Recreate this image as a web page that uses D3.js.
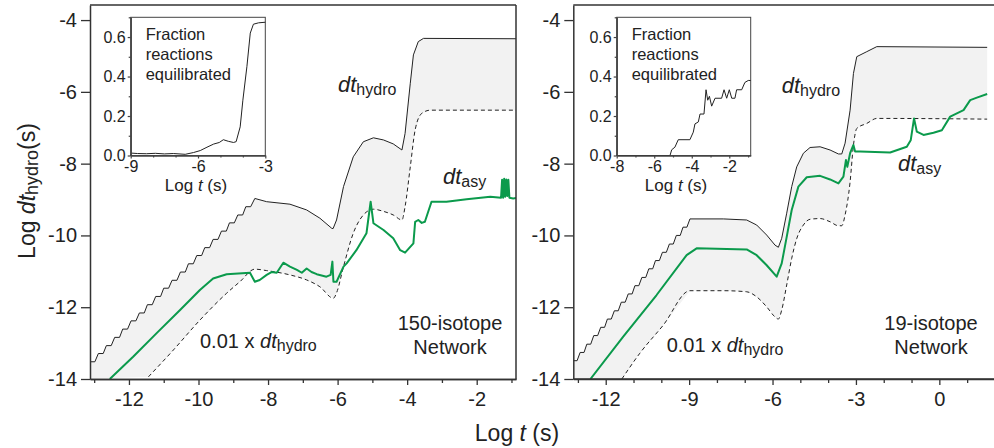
<!DOCTYPE html>
<html>
<head>
<meta charset="UTF-8">
<script src="https://cdn.jsdelivr.net/npm/d3@7"></script>
<style>
body { margin: 0; background: #fff; }
svg { display: block; font-family: "Liberation Sans", Arial, sans-serif; }
</style>
</head>
<body>
<script>
// ---- data (log10 t, log10 dt) ----
var leftHydro = [
  [-13.12,-13.52],[-12.98,-13.52],[-12.88,-13.29],[-12.74,-13.29],[-12.65,-13.07],[-12.51,-13.07],
  [-12.41,-12.84],[-12.27,-12.84],[-12.18,-12.61],[-12.04,-12.61],[-11.94,-12.38],[-11.80,-12.38],
  [-11.70,-12.16],[-11.56,-12.16],[-11.47,-11.93],[-11.33,-11.93],[-11.23,-11.70],[-11.09,-11.70],
  [-11.00,-11.47],[-10.86,-11.47],[-10.76,-11.25],[-10.62,-11.25],[-10.52,-11.02],[-10.38,-11.02],
  [-10.29,-10.79],[-10.15,-10.79],[-10.05,-10.56],[-9.91,-10.56],[-9.82,-10.34],[-9.68,-10.34],
  [-9.58,-10.11],[-9.44,-10.11],[-9.34,-9.88],[-9.20,-9.88],[-9.11,-9.65],[-8.97,-9.65],
  [-8.87,-9.43],[-8.73,-9.43],[-8.64,-9.20],[-8.50,-9.20],[-8.38,-8.97],
  [-8.04,-9.06],[-7.37,-9.13],[-6.89,-9.29],[-6.51,-9.52],[-6.17,-9.80],[-6.13,-9.81],
  [-6.03,-9.57],[-5.83,-8.64],[-5.55,-7.81],[-5.26,-7.39],[-4.97,-7.28],[-4.68,-7.34],
  [-4.40,-7.45],[-4.15,-7.62],[-4.06,-7.16],[-3.91,-5.76],[-3.82,-4.97],[-3.68,-4.60],
  [-3.53,-4.51],[-0.87,-4.52]
];
var leftDashed = [
  [-11.44,-13.94],[-10.72,-13.19],[-9.96,-12.36],[-9.19,-11.61],[-8.81,-11.29],[-8.38,-10.94],
  [-8.04,-10.98],[-7.37,-11.10],[-6.89,-11.24],[-6.51,-11.43],[-6.12,-11.75],[-6.03,-11.60],
  [-5.83,-10.87],[-5.55,-9.94],[-5.26,-9.43],[-4.97,-9.27],[-4.68,-9.33],[-4.40,-9.43],
  [-4.15,-9.57],[-4.06,-9.20],[-3.91,-8.09],[-3.77,-7.06],[-3.58,-6.60],[-3.33,-6.51],[-0.87,-6.51]
];
var leftAsy = [
  [-12.55,-14.0],[-11.88,-13.38],[-11.21,-12.73],[-10.53,-12.08],[-9.96,-11.52],[-9.58,-11.20],
  [-9.19,-11.08],[-8.52,-11.04],[-8.38,-11.29],[-8.24,-11.24],[-8.04,-11.10],[-7.90,-11.02],
  [-7.75,-11.04],[-7.56,-10.76],[-7.37,-10.87],[-7.17,-10.96],[-7.03,-11.04],[-6.89,-10.92],
  [-6.75,-11.02],[-6.60,-11.08],[-6.32,-11.15],[-6.20,-11.10],[-6.15,-10.73],[-6.12,-11.29],
  [-6.03,-11.29],[-5.83,-10.87],[-5.74,-10.78],[-5.46,-10.41],[-5.17,-9.94],[-5.12,-9.57],
  [-5.05,-9.06],[-4.97,-9.66],[-4.68,-9.85],[-4.40,-10.08],[-4.20,-10.41],[-4.06,-10.48],
  [-3.82,-10.22],[-3.77,-9.62],[-3.68,-9.57],[-3.58,-9.65],[-3.49,-9.62],[-3.30,-9.06],
  [-2.87,-9.06],[-2.29,-8.99],[-1.61,-8.92],[-1.30,-8.95],[-1.27,-8.45],[-1.24,-8.95],
  [-1.21,-8.42],[-1.18,-8.92],[-1.15,-8.44],[-1.12,-8.90],[-1.09,-8.45],[-1.06,-8.95],
  [-0.95,-8.97],[-0.87,-8.96]
];
var rightHydro = [
  [-13.17,-13.49],[-13.03,-13.49],[-12.92,-13.26],[-12.78,-13.26],[-12.68,-13.03],[-12.54,-13.03],
  [-12.43,-12.79],[-12.29,-12.79],[-12.18,-12.56],[-12.04,-12.56],[-11.94,-12.33],[-11.80,-12.33],
  [-11.69,-12.10],[-11.55,-12.10],[-11.44,-11.86],[-11.30,-11.86],[-11.19,-11.63],[-11.05,-11.63],
  [-10.95,-11.40],[-10.81,-11.40],[-10.70,-11.17],[-10.56,-11.17],[-10.45,-10.93],[-10.31,-10.93],
  [-10.21,-10.70],[-10.07,-10.70],[-9.96,-10.47],[-9.82,-10.47],[-9.71,-10.24],[-9.57,-10.24],
  [-9.46,-10.00],[-9.32,-10.00],[-9.22,-9.77],[-9.08,-9.77],[-8.97,-9.54],
  [-7.77,-9.54],[-6.93,-9.57],[-6.57,-9.71],[-6.21,-9.99],[-5.91,-10.27],[-5.79,-10.33],
  [-5.67,-10.08],[-5.49,-9.38],[-5.31,-8.64],[-5.13,-8.09],[-4.89,-7.71],[-4.65,-7.55],
  [-4.29,-7.53],[-3.93,-7.62],[-3.63,-7.73],[-3.51,-7.73],[-3.39,-7.43],[-3.21,-6.51],
  [-3.09,-5.49],[-2.97,-5.02],[-2.61,-4.88],[-2.25,-4.74],[1.72,-4.76]
];
var rightDashed = [
  [-11.42,-14.0],[-10.77,-13.28],[-9.93,-12.50],[-8.97,-11.54],[-7.77,-11.54],[-6.93,-11.57],
  [-6.57,-11.71],[-6.21,-11.99],[-5.91,-12.27],[-5.79,-12.33],[-5.67,-12.08],[-5.49,-11.38],
  [-5.31,-10.64],[-5.13,-10.09],[-4.89,-9.71],[-4.65,-9.55],[-4.29,-9.53],[-3.93,-9.62],
  [-3.63,-9.73],[-3.51,-9.73],[-3.39,-9.43],[-3.21,-8.51],[-3.09,-7.49],[-2.97,-7.02],
  [-2.61,-6.88],[-2.25,-6.74],[1.72,-6.76]
];
var rightAsy = [
  [-12.55,-14.0],[-11.37,-12.82],[-10.17,-11.66],[-9.09,-10.55],[-8.73,-10.36],[-6.93,-10.39],
  [-6.57,-10.55],[-6.21,-10.83],[-5.85,-11.15],[-5.67,-10.78],[-5.49,-10.04],[-5.31,-9.29],
  [-5.07,-8.64],[-4.77,-8.38],[-4.29,-8.34],[-3.93,-8.44],[-3.63,-8.55],[-3.45,-8.36],
  [-3.36,-7.90],[-3.31,-8.09],[-3.21,-7.71],[-3.09,-7.48],[-3.03,-7.66],[-2.85,-7.66],
  [-1.77,-7.69],[-1.17,-7.53],[-1.03,-7.35],[-0.91,-6.74],[-0.81,-7.11],[-0.57,-7.20],
  [-0.21,-7.14],[0.09,-7.07],[0.39,-6.69],[0.87,-6.51],[1.11,-6.23],[1.35,-6.16],[1.72,-6.06]
];
// inset: fraction of reactions equilibrated
var leftFrac = [
  [-9.0,0.006],[-8.95,0.012],[-8.7,0.010],[-8.3,0.009],[-7.9,0.011],[-7.5,0.008],[-7.1,0.010],
  [-6.57,0.006],[-6.2,0.015],[-5.9,0.025],[-5.6,0.042],[-5.3,0.058],[-5.05,0.066],[-4.87,0.080],
  [-4.65,0.072],[-4.42,0.066],[-4.30,0.070],[-4.12,0.145],[-4.0,0.28],[-3.82,0.45],[-3.67,0.62],
  [-3.53,0.665],[-3.3,0.672],[-3.0,0.675]
];
var rightFrac = [
  [-8.0,0.0],[-5.16,0.0],[-5.07,0.029],[-4.9,0.042],[-4.72,0.08],[-4.1,0.08],[-3.92,0.118],
  [-3.83,0.16],[-3.65,0.17],[-3.56,0.21],[-3.35,0.21],[-3.24,0.333],[-3.15,0.28],[-3.06,0.30],
  [-2.94,0.25],[-2.76,0.29],[-2.41,0.29],[-2.28,0.333],[-2.14,0.29],[-2.0,0.333],[-1.87,0.29],
  [-1.70,0.29],[-1.61,0.333],[-1.34,0.333],[-1.17,0.37],[-0.99,0.38],[-0.86,0.38]
];
// ticks
var yTicks = [-4, -6, -8, -10, -12, -14];
var leftXTicks = [-12, -10, -8, -6, -4, -2];
var leftXMinor = [-13, -11, -9, -7, -5, -3, -1];
var rightXTicks = [-12, -9, -6, -3, 0];
var rightXMinor = [-13, -11, -10, -8, -7, -5, -4, -2, -1, 1];
var insetYTicks = [0, 0.2, 0.4, 0.6];
var insetYMinor = [0.1, 0.3, 0.5, 0.7];
var leftInsetTicks = [-9, -6, -3];
var leftInsetMinor = [-8, -7, -5, -4];
var rightInsetTicks = [-8, -6, -4, -2];
var rightInsetMinor = [-7, -5, -3, -1];

var green = "#0b9a4c", ink = "#222", frameColor = "#333";
var svg = d3.select("body").append("svg").attr("width", 994).attr("height", 448);

function rich(g, x, y, parts, size, anchor) {
    var t = g.append("text").attr("x", x).attr("y", y)
        .attr("font-size", size).attr("fill", ink)
        .attr("text-anchor", anchor || "start");
    var shift = 0;
    parts.forEach(function(p){
        var s = t.append("tspan").text(p.t);
        if(p.i) s.attr("font-style", "italic");
        if(p.sub){
            s.attr("font-size", p.sub).attr("dy", 3 - shift);
            shift = 3;
        }else if(shift){
            s.attr("dy", -shift);
            shift = 0;
        }
    });
    return t;
}

function panel(cfg){
    var x = d3.scaleLinear().domain(cfg.xDomain).range([cfg.x0, cfg.x1]);
    var y = d3.scaleLinear().domain([-14, -3.58]).range([379, 5]);
    var g = svg.append("g");
    var id = "clip" + cfg.name;
    svg.append("clipPath").attr("id", id).append("rect")
        .attr("x", cfg.x0).attr("y", 5).attr("width", cfg.x1 - cfg.x0).attr("height", 374);
    var plot = g.append("g").attr("clip-path", "url(#" + id + ")");
    var line = d3.line().x(function(d){return x(d[0]);}).y(function(d){return y(d[1]);});

    // shaded band between dt_hydro and 0.01 dt_hydro
    var band = cfg.hydro.concat(cfg.dashed.slice().reverse());
    band.push([cfg.hydro[0][0], -14]);
    plot.append("path").attr("d", line(band) + "Z").attr("fill", "#f2f2f2");

    var smooth = d3.line().curve(d3.curveMonotoneX)
        .x(function(d){return x(d[0]);}).y(function(d){return y(d[1]);});
    plot.append("path").attr("d", line(cfg.hydro)).attr("fill", "none")
        .attr("stroke", ink).attr("stroke-width", 1);
    plot.append("path").attr("d", smooth(cfg.dashed)).attr("fill", "none")
        .attr("stroke", ink).attr("stroke-width", 1).attr("stroke-dasharray", "4,3");
    plot.append("path").attr("d", line(cfg.asy)).attr("fill", "none")
        .attr("stroke", green).attr("stroke-width", 2).attr("stroke-linejoin", "round");

    // frame
    g.append("line").attr("x1", cfg.x0).attr("x2", cfg.frameRight).attr("y1", 5).attr("y2", 5)
        .attr("stroke", frameColor).attr("stroke-width", 1.5);
    if(cfg.frameRight < 994){
        g.append("line").attr("x1", cfg.x1).attr("x2", cfg.x1).attr("y1", 5).attr("y2", 379)
            .attr("stroke", frameColor).attr("stroke-width", 1.5);
    }

    var yAxis = g.append("g").attr("transform", "translate(" + cfg.x0 + ",0)")
        .call(d3.axisLeft(y).tickValues(yTicks).tickSize(9).tickPadding(4).tickSizeOuter(0));
    var xAxis = g.append("g").attr("transform", "translate(0,379)")
        .call(d3.axisBottom(x).tickValues(cfg.xTicks).tickSize(6).tickPadding(7).tickSizeOuter(0));
    var xMinor = g.append("g").attr("transform", "translate(0,379)")
        .call(d3.axisBottom(x).tickValues(cfg.xMinor).tickSize(4).tickFormat("").tickSizeOuter(0));
    [yAxis, xAxis, xMinor].forEach(function(a){
        a.select(".domain").attr("stroke", frameColor).attr("stroke-width", 1.5);
        a.selectAll(".tick line").attr("stroke", frameColor).attr("stroke-width", 1.3);
        a.selectAll("text").attr("font-size", 20).attr("fill", ink)
            .attr("font-family", "Liberation Sans, Arial, sans-serif");
    });
    xAxis.selectAll("text").text(function(d){return d < 0 ? "-" + (-d) : d;});
    yAxis.selectAll("text").text(function(d){return "-" + (-d);});
    if(cfg.frameRight >= 994){
        xAxis.select(".domain").attr("d", "M" + cfg.x0 + ",0H994");
    }

    // annotations
    rich(g, cfg.hydroLabel[0], cfg.hydroLabel[1], [{t:"dt", i:true}, {t:"hydro", sub:16}], 22);
    rich(g, cfg.asyLabel[0], cfg.asyLabel[1], [{t:"dt", i:true}, {t:"asy", sub:16}], 22);
    rich(g, cfg.fracLabel[0], cfg.fracLabel[1], [{t:"0.01 x "}, {t:"dt", i:true}, {t:"hydro", sub:16}], 20);
    rich(g, cfg.netLabel[0], 330, [{t:cfg.network}], 20, "middle");
    rich(g, cfg.netLabel[0], 354, [{t:"Network"}], 20, "middle");

    // inset
    var ix = d3.scaleLinear().domain(cfg.insetDomain).range([cfg.ix0, cfg.ix1]);
    var iy = d3.scaleLinear().domain([0, 0.7]).range([155.5, 17.3]);
    var ig = g.append("g");
    ig.append("rect").attr("x", cfg.ix0).attr("y", 17.3).attr("width", cfg.ix1 - cfg.ix0)
        .attr("height", 155.5 - 17.3).attr("fill", "#fff").attr("stroke", "#444").attr("stroke-width", 1);
    var iline = d3.line().x(function(d){return ix(d[0]);}).y(function(d){return iy(d[1]);});
    ig.append("path").attr("d", iline(cfg.frac)).attr("fill", "none")
        .attr("stroke", ink).attr("stroke-width", 1);
    var iya = ig.append("g").attr("transform", "translate(" + cfg.ix0 + ",0)")
        .call(d3.axisLeft(iy).tickValues(insetYTicks).tickSize(3).tickPadding(2)
            .tickFormat(d3.format(".1f")).tickSizeOuter(0));
    var iym = ig.append("g").attr("transform", "translate(" + cfg.ix0 + ",0)")
        .call(d3.axisLeft(iy).tickValues(insetYMinor).tickSize(2).tickFormat("").tickSizeOuter(0));
    var ixa = ig.append("g").attr("transform", "translate(0,155.5)")
        .call(d3.axisBottom(ix).tickValues(cfg.insetTicks).tickSize(3).tickPadding(2).tickSizeOuter(0));
    var ixm = ig.append("g").attr("transform", "translate(0,155.5)")
        .call(d3.axisBottom(ix).tickValues(cfg.insetMinor).tickSize(2).tickFormat("").tickSizeOuter(0));
    [iya, iym, ixa, ixm].forEach(function(a){
        a.select(".domain").attr("stroke", "#444").attr("stroke-width", 1.2);
        a.selectAll(".tick line").attr("stroke", "#444").attr("stroke-width", 1.2);
        a.selectAll("text").attr("font-size", 16).attr("fill", ink)
            .attr("font-family", "Liberation Sans, Arial, sans-serif");
    });
    ixa.selectAll("text").text(function(d){return "-" + (-d);});
    rich(ig, cfg.ix0 + 15, 40, [{t:"Fraction"}], 16.5);
    rich(ig, cfg.ix0 + 15, 60, [{t:"reactions"}], 16.5);
    rich(ig, cfg.ix0 + 15, 80, [{t:"equilibrated"}], 16.5);
    rich(ig, cfg.insetTitleX, 191, [{t:"Log "}, {t:"t", i:true}, {t:" (s)"}], 17, "middle");
}

panel({
    name: "L", xDomain: [-13.12, -0.87], x0: 90, x1: 516, frameRight: 516,
    hydro: leftHydro, dashed: leftDashed, asy: leftAsy,
    xTicks: leftXTicks, xMinor: leftXMinor,
    hydroLabel: [338, 92], asyLabel: [443, 184], fracLabel: [200, 348],
    netLabel: [450], network: "150-isotope",
    insetDomain: [-9, -3], ix0: 130.7, ix1: 265.3, frac: leftFrac,
    insetTicks: leftInsetTicks, insetMinor: leftInsetMinor, insetTitleX: 196
});
panel({
    name: "R", xDomain: [-13.166, 1.966], x0: 573.3, x1: 994, frameRight: 994,
    hydro: rightHydro, dashed: rightDashed, asy: rightAsy,
    xTicks: rightXTicks, xMinor: rightXMinor,
    hydroLabel: [781.7, 93], asyLabel: [898, 171], fracLabel: [666.7, 352],
    netLabel: [931], network: "19-isotope",
    insetDomain: [-8, -0.86], ix0: 616.7, ix1: 750.7, frac: rightFrac,
    insetTicks: rightInsetTicks, insetMinor: rightInsetMinor, insetTitleX: 676
});

// axis titles
rich(svg, 517, 441, [{t:"Log "}, {t:"t", i:true}, {t:" (s)"}], 23, "middle");
var yt = rich(svg, 0, 0, [{t:"Log "}, {t:"dt", i:true}, {t:"hydro", sub:18}, {t:"(s)"}], 23, "middle");
yt.attr("transform", "translate(35,191) rotate(-90)");
</script>
</body>
</html>
